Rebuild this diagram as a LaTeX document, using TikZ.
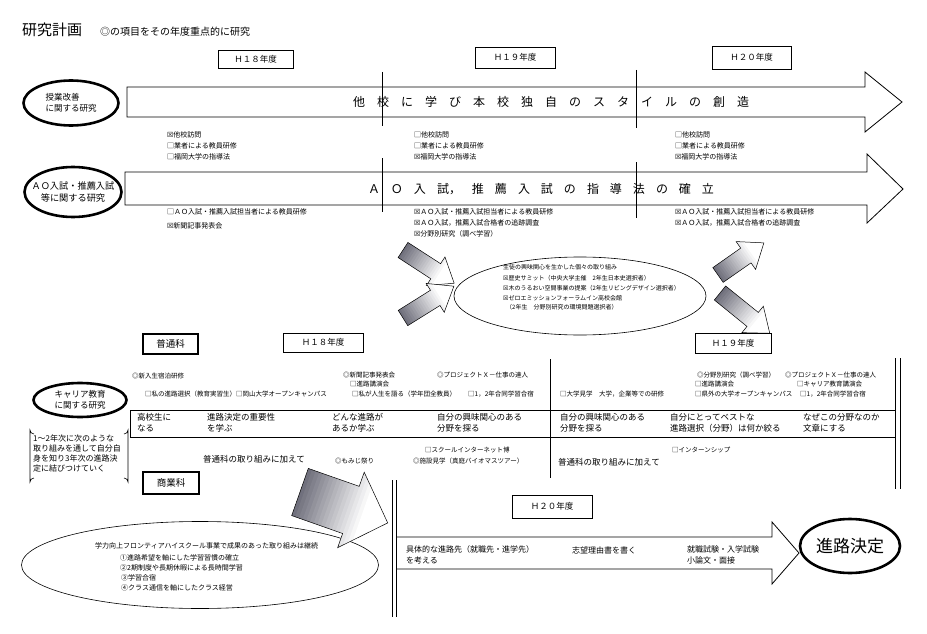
\documentclass[tikz,border=0pt]{standalone}
\usepackage{fontspec}
\setmainfont{Noto Sans CJK JP}
\newfontfamily\djv{DejaVu Sans}
\usetikzlibrary{shapes.geometric}
\definecolor{arrdark}{RGB}{72,72,88}
\newcommand\fsz[2]{\fontsize{#1}{#2}\selectfont}
\newcommand\xb{{\djv ☒}}
\newcommand\gA{\hspace{12pt}}
\newcommand\gB{\hspace{11pt}}
% #1,#2 tail centre, #3 angle, #4 length, #5 shaft half width, #6 head half width, #7 head length
\newcommand\gradarrow[7]{%
\begin{scope}[shift={(#1,#2)},rotate=#3]
 \begin{scope}
  \clip (0,-#5) -- (#4-#7,-#5) -- (#4-#7,-#6) -- (#4,0) -- (#4-#7,#6) -- (#4-#7,#5) -- (0,#5) -- cycle;
  \foreach \i in {0,...,23}{%
    \pgfmathsetmacro\p{min(100,22+78*\i/17)}%
    \fill[white!\p!arrdark] ({#4*\i/24},{-#6-2}) rectangle ({#4*(\i+1)/24+0.8},{#6+2});
  }
 \end{scope}
 \draw[line width=0.5pt] (0,-#5) -- (#4-#7,-#5) -- (#4-#7,-#6) -- (#4,0) -- (#4-#7,#6) -- (#4-#7,#5) -- (0,#5) -- cycle;
\end{scope}}
\begin{document}
\begin{tikzpicture}[x=1pt,y=-1pt,
  txt/.style={anchor=west,inner sep=0pt,font=\fsz{7}{8}},
  ctxt/.style={anchor=west,inner sep=0pt,font=\fsz{6.5}{7.5}},
  mtxt/.style={anchor=west,inner sep=0pt,font=\fsz{6}{7}},
  rowtxt/.style={anchor=north west,inner sep=0pt,align=left,font=\fsz{8.5}{11}},
  yearbox/.style={draw,line width=0.7pt,inner sep=0pt,font=\fsz{8.5}{9}},
  kabox/.style={draw,line width=2.6pt,inner sep=0pt,font=\fsz{9.5}{10}},
  thickoval/.style={ellipse,draw,line width=2.6pt,inner sep=0pt},
  thinoval/.style={ellipse,draw,line width=0.6pt,inner sep=0pt},
  ]
\useasboundingbox[fill=white] (0,0) rectangle (927,634);

% ---------- title ----------
\node[anchor=west,inner sep=0pt,font=\fsz{15}{15}] (title) at (22,30) {研究計画};
\node[anchor=west,inner sep=0pt,font=\fsz{10}{10}] (subtitle) at (100,32) {◎の項目をその年度重点的に研究};

% ---------- year boxes (top) ----------
\node[yearbox,minimum width=75pt,minimum height=18pt] (y18a) at (255.5,59) {Ｈ１８年度};
\node[yearbox,minimum width=80pt,minimum height=21pt] (y19a) at (515,57.5) {Ｈ１９年度};
\node[yearbox,minimum width=79pt,minimum height=23pt] (y20a) at (751.5,57.5) {Ｈ２０年度};

% ---------- big arrows ----------
\draw[line width=0.8pt,fill=white] (127,87) -- (865,87) -- (865,72) -- (902,102) -- (865,132) -- (865,117) -- (127,117) -- cycle;
\draw[line width=0.8pt,fill=white] (125,172) -- (867,172) -- (867,154) -- (903,189) -- (867,223) -- (867,205) -- (125,205) -- cycle;
\draw[line width=0.8pt] (382,72) -- (382,126);
\draw[line width=0.8pt] (382,158) -- (382,212);
\draw[line width=0.8pt] (636,70) -- (636,128);
\draw[line width=0.8pt] (636,162) -- (636,218);

\node[inner sep=0pt,font=\fsz{12}{12}] (arr1t) at (551,102) {他\gA 校\gA に\gA 学\gA び\gA 本\gA 校\gA 独\gA 自\gA の\gA ス\gA タ\gA イ\gA ル\gA の\gA 創\gA 造};
\node[inner sep=0pt,font=\fsz{12}{12}] (arr2t) at (541,189) {Ａ\gB Ｏ\gB 入\gB 試，\gB 推\gB 薦\gB 入\gB 試\gB の\gB 指\gB 導\gB 法\gB の\gB 確\gB 立};

% ---------- ovals on left ----------
\node[thickoval,minimum width=95pt,minimum height=45pt] (o1) at (71,103) {};
\node[inner sep=0pt,align=left,font=\fsz{8.5}{11}] (o1t) at (71,103) {授業改善\\に関する研究};
\node[thickoval,minimum width=97pt,minimum height=50pt] (o2) at (73,192) {};
\node[inner sep=0pt,align=center,font=\fsz{9.2}{12}] (o2t) at (73,192) {ＡＯ入試・推薦入試\\等に関する研究};

% ---------- check items under arrow 1 ----------
\node[txt] (c1a) at (167,135) {\xb 他校訪問};
\node[txt] (c1b) at (167,146) {□業者による教員研修};
\node[txt] (c1c) at (167,157) {□福岡大学の指導法};
\node[txt] (c2a) at (414,135) {□他校訪問};
\node[txt] (c2b) at (414,146) {□業者による教員研修};
\node[txt] (c2c) at (414,157) {\xb 福岡大学の指導法};
\node[txt] (c3a) at (675,135) {□他校訪問};
\node[txt] (c3b) at (675,146) {□業者による教員研修};
\node[txt] (c3c) at (675,157) {\xb 福岡大学の指導法};

% ---------- check items under arrow 2 ----------
\node[txt] (d1a) at (167,212) {□ＡＯ入試・推薦入試担当者による教員研修};
\node[txt] (d1b) at (167,226) {\xb 新聞記事発表会};
\node[txt] (d2a) at (414,212) {\xb ＡＯ入試・推薦入試担当者による教員研修};
\node[txt] (d2b) at (414,223) {\xb ＡＯ入試，推薦入試合格者の追跡調査};
\node[txt] (d2c) at (414,234) {\xb 分野別研究（調べ学習）};
\node[txt] (d3a) at (675,212) {\xb ＡＯ入試・推薦入試担当者による教員研修};
\node[txt] (d3b) at (675,223) {\xb ＡＯ入試，推薦入試合格者の追跡調査};

% ---------- middle ellipse ----------
\node[thinoval,minimum width=252pt,minimum height=78pt] (mid) at (580,296) {};
\node[mtxt] (m1) at (503,267) {生徒の興味関心を生かした個々の取り組み};
\node[mtxt] (m2) at (503,278) {\xb 歴史サミット（中央大学主催　2年生日本史選択者）};
\node[mtxt] (m3) at (503,288) {\xb 木のうるおい空間事業の提案（2年生リビングデザイン選択者）};
\node[mtxt] (m4) at (503,298) {\xb ゼロエミッションフォーラムイン高校会館};
\node[mtxt] (m5) at (506,307) {（2年生　分野別研究の環境問題選択者）};

% ---------- shaded arrows ----------
\gradarrow{403}{250}{-33}{61}{9}{17}{22}
\gradarrow{403}{318}{32}{60}{9}{17}{22}
\gradarrow{718}{275}{35}{56}{9}{17}{22}
\gradarrow{720}{293}{-39}{64}{9}{17}{22}

% ---------- career section ----------
\node[kabox,minimum width=55pt,minimum height=20pt] (futsu) at (170.5,344) {普通科};
\node[yearbox,minimum width=80pt,minimum height=19pt] (y18b) at (323,342.5) {Ｈ１８年度};
\node[yearbox,minimum width=76pt,minimum height=20pt] (y19b) at (733,343) {Ｈ１９年度};

\node[thickoval,minimum width=93pt,minimum height=34pt] (o3) at (80,400) {};
\node[inner sep=0pt,align=center,font=\fsz{8.5}{11}] (o3t) at (80,400) {キャリア教育\\に関する研究};

\draw[line width=0.8pt] (130,410) -- (895,410);
\draw[line width=0.8pt] (130,437) -- (895,437);
\draw[line width=0.8pt] (130,410) -- (130,437);
\draw[line width=0.8pt] (550,359) -- (550,478);
\draw[line width=0.8pt] (895,358) -- (895,489);
\draw[line width=0.8pt] (900,358) -- (900,489);

\node[ctxt] (k1) at (132,376) {◎新入生宿泊研修};
\node[ctxt] (k2) at (145,394) {□私の進路選択（教育実習生）};
\node[ctxt] (k3) at (236,394) {□岡山大学オープンキャンパス};
\node[ctxt] (k4) at (343,375) {◎新聞記事発表会};
\node[ctxt] (k5) at (350,384) {□進路講演会};
\node[ctxt] (k6) at (437,375) {◎プロジェクトＸ－仕事の達人};
\node[ctxt] (k7) at (352,394) {□私が人生を語る（学年団全教員）};
\node[ctxt] (k8) at (468,394) {□1，2年合同学習合宿};
\node[ctxt] (k9) at (560,394) {□大学見学　大学，企業等での研修};
\node[ctxt] (k10) at (697,375) {◎分野別研究（調べ学習）};
\node[ctxt] (k11) at (695,384) {□進路講演会};
\node[ctxt] (k12) at (785,375) {◎プロジェクトＸ－仕事の達人};
\node[ctxt] (k13) at (797,384) {□キャリア教育講演会};
\node[ctxt] (k14) at (695,394) {□県外の大学オープンキャンパス};
\node[ctxt] (k15) at (800,394) {□1，2年合同学習合宿};

\node[rowtxt] (r1) at (137,413) {高校生に\\なる};
\node[rowtxt] (r2) at (207,413) {進路決定の重要性\\を学ぶ};
\node[rowtxt] (r3) at (332,413) {どんな進路が\\あるか学ぶ};
\node[rowtxt] (r4) at (437,413) {自分の興味関心のある\\分野を探る};
\node[rowtxt] (r5) at (560,413) {自分の興味関心のある\\分野を探る};
\node[rowtxt] (r6) at (670,413) {自分にとってベストな\\進路選択（分野）は何か絞る};
\node[rowtxt] (r7) at (803,413) {なぜこの分野なのか\\文章にする};

\node[anchor=west,inner sep=0pt,font=\fsz{8.5}{9}] (b1) at (203,459) {普通科の取り組みに加えて};
\node[ctxt] (b2) at (335,461) {◎もみじ祭り};
\node[ctxt] (b3) at (425,450) {□スクールインターネット博};
\node[ctxt] (b4) at (413,461) {◎施設見学（真庭バイオマスツアー）};
\node[anchor=west,inner sep=0pt,font=\fsz{8.5}{9}] (b5) at (558,462) {普通科の取り組みに加えて};
\node[ctxt] (b6) at (672,450) {□インターンシップ};

% bracket note
\draw[line width=0.6pt] (34,434) arc[start angle=90,end angle=180,radius=4] -- (30,482) arc[start angle=180,end angle=270,radius=4];
\draw[line width=0.6pt] (124,434) arc[start angle=90,end angle=0,radius=4] -- (128,482) arc[start angle=0,end angle=-90,radius=4];
\node[anchor=north west,inner sep=0pt,align=left,font=\fsz{8}{9.7}] (note) at (33,435) {1～2年次に次のような\\取り組みを通して自分自\\身を知り3年次の進路決\\定に結びつけていく};

% ---------- commercial course ----------
\node[kabox,minimum width=56pt,minimum height=22pt] (shogyo) at (171,483) {商業科};
\node[thinoval,minimum width=357pt,minimum height=87pt] (bot) at (200,565) {};
\node[txt] (e0) at (95,546) {学力向上フロンティアハイスクール事業で成果のあった取り組みは継続};
\node[txt] (e1) at (120,558) {①進路希望を軸にした学習習慣の確立};
\node[txt] (e2) at (120,568) {②2期制度や長期休暇による長時間学習};
\node[txt] (e3) at (121,578) {③学習合宿};
\node[txt] (e4) at (121,588) {④クラス通信を軸にしたクラス経営};

\gradarrow{300}{492}{-19.4}{93}{25}{40}{39}

% ---------- H20 / final ----------
\draw[line width=0.8pt] (392,480) -- (392,617);
\draw[line width=0.8pt] (396,480) -- (396,617);
\node[yearbox,minimum width=80pt,minimum height=23pt] (y20b) at (552,506.5) {Ｈ２０年度};
\draw[line width=0.8pt] (396,537) -- (772,537) -- (772,522) -- (799,553) -- (772,584) -- (772,569) -- (396,569);
\node[anchor=west,inner sep=0pt,align=left,font=\fsz{8}{11}] (f1) at (406,555) {具体的な進路先（就職先・進学先）\\ を考える};
\node[anchor=west,inner sep=0pt,font=\fsz{8}{9}] (f2) at (572,550) {志望理由書を書く};
\node[anchor=west,inner sep=0pt,align=left,font=\fsz{8}{11}] (f3) at (687,555) {就職試験・入学試験\\ 小論文・面接};
\node[thickoval,minimum width=100pt,minimum height=54pt] (goal) at (850,546) {};
\node[inner sep=0pt,font=\fsz{17}{17}] (goalt) at (850,546) {進路決定};
\end{tikzpicture}
\end{document}
